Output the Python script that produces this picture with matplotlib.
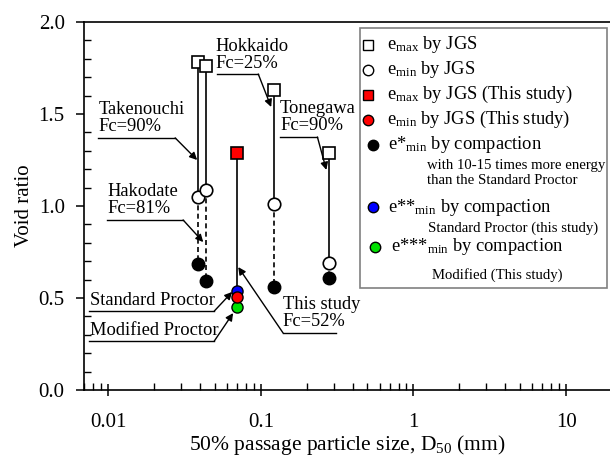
import numpy as np
import matplotlib
matplotlib.use('Agg')
import matplotlib.pyplot as plt
from matplotlib.patches import Rectangle
from matplotlib.ticker import LogLocator, NullFormatter, MultipleLocator, FormatStrFormatter

plt.rcParams['font.family'] = ['Liberation Serif', 'DejaVu Serif']
plt.rcParams['mathtext.fontset'] = 'custom'
plt.rcParams['mathtext.rm'] = 'Liberation Serif'
plt.rcParams['mathtext.it'] = 'Liberation Serif:italic'

# JGS samples: Takenouchi, Hakodate, Hokkaido, Tonegawa
d50_jgs = [0.0389, 0.0439, 0.1227, 0.281]
emax_jgs = [1.78, 1.76, 1.63, 1.29]
emin_jgs = [1.05, 1.087, 1.01, 0.69]
estar_min = [0.685, 0.59, 0.56, 0.61]

# this study
d50_this = 0.0701
emax_this = 1.29
emin_this = 0.505
e2star_min = 0.54   # standard proctor
e3star_min = 0.45   # modified proctor

fig = plt.figure(figsize=(6.1, 4.57), dpi=100)
ax = fig.add_axes([0.138, 0.1466, 0.862, 0.8053])

# vertical connectors
for d, hi, lo, st in zip(d50_jgs, emax_jgs, emin_jgs, estar_min):
    ax.plot([d, d], [hi, lo], color='k', lw=1.2, zorder=1)
    ax.plot([d, d], [lo, st], color='k', lw=1.2, ls=(0, (3, 2)), zorder=1)
ax.plot([d50_this, d50_this], [emax_this, e2star_min], color='k', lw=1.2, zorder=1)

ms = 8
ax.plot(d50_jgs, emax_jgs, 's', ms=ms, mfc='white', mec='k', mew=1.2, zorder=3)
ax.plot(d50_jgs, emin_jgs, 'o', ms=ms + 1, mfc='white', mec='k', mew=1.2, zorder=3)
ax.plot(d50_jgs, estar_min, 'o', ms=ms + 1, mfc='k', mec='k', zorder=3)
ax.plot([d50_this], [emax_this], 's', ms=ms, mfc='red', mec='k', mew=1.2, zorder=3)
ax.plot([d50_this], [e2star_min], 'o', ms=ms, mfc='blue', mec='k', mew=1, zorder=3)
ax.plot([d50_this], [emin_this], 'o', ms=ms, mfc='red', mec='k', mew=1, zorder=4)
ax.plot([d50_this], [e3star_min], 'o', ms=ms, mfc='#00e000', mec='k', mew=1, zorder=3)

ax.set_xscale('log')
ax.set_xlim(0.00697, 19.4)
ax.set_ylim(0, 2.0)
ax.set_xticks([0.01, 0.1, 1, 10])
ax.set_xticklabels(['0.01', '0.1', '1', '10'])
ax.xaxis.set_minor_locator(LogLocator(base=10, subs=np.arange(2, 10), numticks=20))
ax.xaxis.set_minor_formatter(NullFormatter())
ax.yaxis.set_major_locator(MultipleLocator(0.5))
ax.yaxis.set_minor_locator(MultipleLocator(0.1))
ax.yaxis.set_major_formatter(FormatStrFormatter('%.1f'))
ax.tick_params(axis='x', which='major', direction='inout', length=9, width=1.1, labelsize=15, pad=12)
ax.tick_params(axis='x', which='minor', direction='in', length=5, width=1)
ax.tick_params(axis='y', which='major', direction='out', length=5.5, width=1.1, labelsize=15, pad=8.5)
ax.tick_params(axis='y', which='minor', direction='in', length=5, width=1)
ax.spines['right'].set_visible(False)
for s in ['left', 'bottom', 'top']:
    ax.spines[s].set_linewidth(1.2)

ax.set_ylabel('Void ratio', fontsize=15, labelpad=3)
ax.set_xlabel(r'50% passage particle size, D$_{50}$ (mm)', fontsize=15.5, labelpad=1)

# annotations: text, underline and arrow
fs = 13.3
arrow = dict(arrowstyle='-|>', color='k', lw=1, mutation_scale=11, shrinkA=0, shrinkB=0)

def label(txt, tx, ty, x0, x1, yl, tipx, tipy):
    ax.text(tx, ty, txt, fontsize=fs, ha='left', va='bottom', linespacing=1.0)
    ax.plot([x0, x1], [yl, yl], color='k', lw=1)
    ax.annotate('', xy=(tipx, tipy), xytext=(x1, yl), arrowprops=arrow)

label('Takenouchi\nFc=90%', 0.0087, 1.385, 0.0086, 0.0275, 1.37, 0.0383, 1.25)
label('Hokkaido\nFc=25%', 0.0505, 1.73, 0.0519, 0.0963, 1.717, 0.117, 1.538)
label('Tonegawa\nFc=90%', 0.134, 1.39, 0.134, 0.235, 1.375, 0.269, 1.196)
label('Hakodate\nFc=81%', 0.0099, 0.94, 0.00985, 0.031, 0.924, 0.042, 0.804)
label('Standard Proctor', 0.0076, 0.44, 0.0075, 0.0496, 0.429, 0.065, 0.533)
label('Modified Proctor', 0.0076, 0.277, 0.0075, 0.0496, 0.266, 0.0659, 0.418)
ax.text(0.139, 0.325, 'This study\nFc=52%', fontsize=fs, ha='left', va='bottom', linespacing=1.0)
ax.plot([0.313, 0.14], [0.31, 0.31], color='k', lw=1)
ax.annotate('', xy=(0.0712, 0.668), xytext=(0.14, 0.31), arrowprops=arrow)

# legend box drawn by hand (sub-captions under some entries)
T = ax.transAxes
ax.add_patch(Rectangle((0.525, 0.277), 0.469, 0.707, transform=T, fill=False,
                       ec='#808080', lw=1.2, zorder=5))
lfs = 13.3
sfs = 10.6
rows = [
    (0.540, 0.9375, 's', 'white', 0.576, r'e$_{\mathrm{max}}$ by JGS'),
    (0.540, 0.870, 'o', 'white', 0.576, r'e$_{\mathrm{min}}$ by JGS'),
    (0.540, 0.802, 's', 'red', 0.576, r'e$_{\mathrm{max}}$ by JGS (This study)'),
    (0.540, 0.734, 'o', 'red', 0.576, r'e$_{\mathrm{min}}$ by JGS (This study)'),
    (0.549, 0.666, 'o', 'k', 0.578, r'e*$_{\mathrm{min}}$ by compaction'),
    (0.549, 0.497, 'o', 'blue', 0.578, r'e**$_{\mathrm{min}}$ by compaction'),
    (0.553, 0.389, 'o', '#00e000', 0.584, r'e***$_{\mathrm{min}}$ by compaction'),
]
for mx, my, mk, fc, tx, txt in rows:
    ax.plot([mx], [my], mk, ms=7.5, mfc=fc, mec='k', mew=1, transform=T, clip_on=False, zorder=6)
    ax.text(tx, my, txt, transform=T, fontsize=lfs, va='center', ha='left', zorder=6)
subs = [
    (0.652, 0.611, 'with 10-15 times more energy'),
    (0.652, 0.568, 'than the Standard Proctor'),
    (0.654, 0.440, 'Standard Proctor (this study)'),
    (0.662, 0.3125, 'Modified (This study)'),
]
for tx, ty, txt in subs:
    ax.text(tx, ty, txt, transform=T, fontsize=sfs, va='center', ha='left', zorder=6)

fig.savefig('out.png', dpi=100)
